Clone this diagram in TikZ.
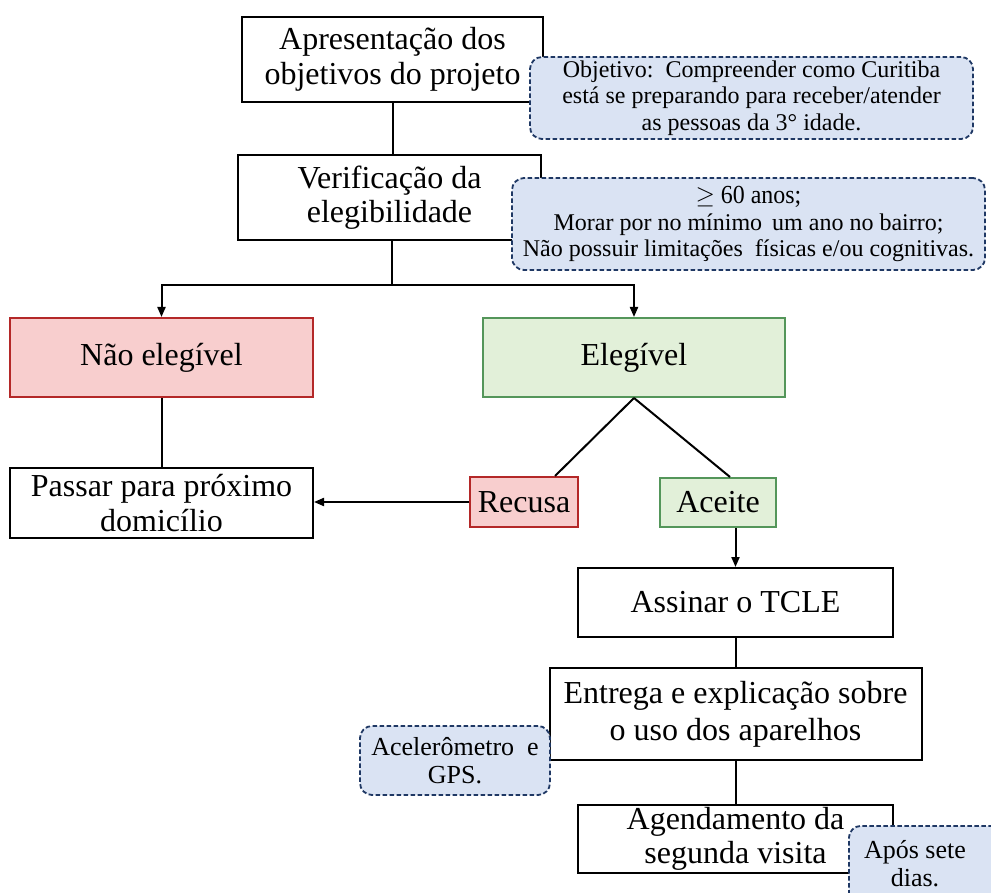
\documentclass[tikz,border=0pt]{standalone}
\usepackage{fontspec}
\setmainfont{Liberation Serif}
\newfontfamily\narrowserif[FakeStretch=0.92]{Liberation Serif}
\usetikzlibrary{arrows.meta,calc}
\definecolor{noFill}{RGB}{248,206,206}
\definecolor{noLine}{RGB}{180,40,40}
\definecolor{yesFill}{RGB}{226,240,217}
\definecolor{yesLine}{RGB}{84,150,90}
\definecolor{noteFill}{RGB}{218,227,243}
\definecolor{noteLine}{RGB}{31,56,100}
\begin{document}
\begin{tikzpicture}[x=1pt,y=1pt,
  stepbox/.style={draw=black, line width=2pt, fill=white, align=center,
    inner sep=0pt, font=\fontsize{32}{34.5}\selectfont},
  refusebox/.style={stepbox, fill=noFill, draw=noLine},
  acceptbox/.style={stepbox, fill=yesFill, draw=yesLine},
  notebox/.style={draw=noteLine, fill=noteFill, dash pattern=on 4.5pt off 2.5pt,
    line width=1.8pt, rounded corners=12pt, align=center, inner sep=0pt,
    font=\fontsize{24}{26.5}\selectfont},
  wire/.style={line width=2pt},
  arrowwire/.style={wire, -{Triangle[length=10pt,width=8pt]}}]

\clip (0,0) rectangle (991,-893);
\fill[white] (0,0) rectangle (991,-893);

% process steps
\node[stepbox, minimum width=301pt, minimum height=85pt] (b1) at (392.5,-59.5)
  {Apresentação dos\\objetivos do projeto};
\node[stepbox, minimum width=303pt, minimum height=85pt] (b2) at (389.5,-197.5)
  {Verificação da\\elegibilidade};
\node[refusebox, minimum width=303pt, minimum height=79pt] (ne) at (161.5,-357.5)
  {Não elegível};
\node[acceptbox, minimum width=302pt, minimum height=79pt] (el) at (634,-357.5)
  {Elegível};
\node[stepbox, minimum width=303pt, minimum height=70pt] (pa) at (161.5,-503)
  {Passar para próximo\\domicílio};
\node[refusebox, minimum width=108pt, minimum height=50pt] (re) at (524,-502)
  {Recusa};
\node[acceptbox, minimum width=116pt, minimum height=49pt] (ac) at (718,-502.5)
  {Aceite};
\node[stepbox, minimum width=315pt, minimum height=69pt] (as) at (735.5,-602.5)
  {Assinar o TCLE};
\node[stepbox, minimum width=372pt, minimum height=92pt,
  font=\fontsize{32}{37}\selectfont] (en) at (735.5,-714)
  {Entrega e explicação sobre\\o uso dos aparelhos};
\node[stepbox, minimum width=315pt, minimum height=68pt] (ag) at (735.5,-839)
  {Agendamento da\\segunda visita};

% connectors
\coordinate (jn) at (392,-285);
\draw[wire] (b1.south) -- (b1.south |- b2.north);
\draw[wire] (b2.south -| jn) -- (jn);
\draw[arrowwire] (jn) -| (ne.north);
\draw[arrowwire] (jn) -| (el.north);
\draw[wire] (ne.south) -- (pa.north);
\draw[wire] (el.south) -- ($(re.north)+(31,0)$);
\draw[wire] (el.south) -- ($(ac.north)+(12,0)$);
\draw[arrowwire] (re.west) -- (pa.east |- re.west);
\draw[arrowwire] (ac.south -| as.north) -- (as.north);
\draw[wire] (as.south) -- (en.north);
\draw[wire] (en.south) -- (ag.north);

% notes
\node[notebox, minimum width=443pt, minimum height=82pt] (c1) at (751.5,-98)
  {Objetivo:\ \ Compreender como Curitiba\\está se preparando para receber/atender\\as pessoas da 3° idade.};
\node[notebox, minimum width=473pt, minimum height=92pt] (c2) at (748.5,-224)
  {\fontsize{26}{25.5}\narrowserif $\geq$ 60 anos;\\Morar por no mínimo\, um ano no bairro;\\Não possuir limitações\ \ físicas e/ou cognitivas.};
\node[notebox, minimum width=190pt, minimum height=69pt,
  font=\fontsize{26}{28}\selectfont] (c3) at (455,-760.5)
  {Acelerômetro\ \ e\\GPS.};
\node[notebox, minimum width=170pt, minimum height=85pt, anchor=north west] (c4) at (848,-825) {};
\node[align=center, inner sep=0pt, font=\fontsize{26}{28}\selectfont] (c4t) at (915,-864)
  {Após sete\\dias.};
\end{tikzpicture}
\end{document}
